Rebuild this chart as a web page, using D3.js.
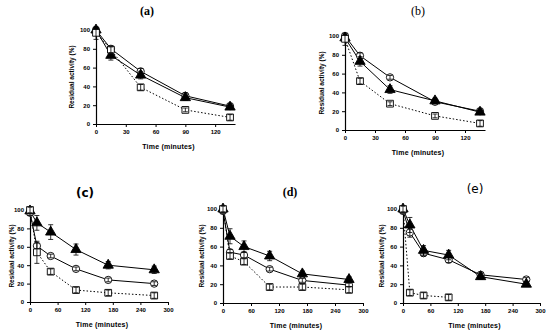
<!DOCTYPE html>
<html>
<head>
    <title>Residual activity</title>
    <script src="https://d3js.org/d3.v7.min.js"></script>
    <style>
        body { margin: 0; background: #fff; }
        svg text { font-family: Arial, "Liberation Sans", sans-serif; }
    </style>
</head>
<body>
<div id="vis"></div>
<script>
    // time points (minutes)
    var timesAB = [0, 15, 45, 90, 135];
    var timesCDE = [0, 15, 45, 100, 170, 270];
    var timesSquareE = [0, 15, 45, 100];

    var xTicksAB = [0, 30, 60, 90, 120];
    var xTicksCDE = [0, 60, 120, 180, 240, 300];
    var yTicks = [0, 20, 40, 60, 80, 100];

    var panelNames = ["(a)", "(b)", "(c)", "(d)", "(e)"];

    // residual activity (%) - open circles, filled triangles, open squares
    var circleA = [100, 80, 56, 30, 19];
    var triangleA = [100, 73, 52, 28, 18];
    var squareA = [97, 79, 39, 15, 7];
    var circleErrA = [2, 3, 3, 3, 2];
    var triangleErrA = [3, 5, 4, 3, 2];
    var squareErrA = [7, 3, 3, 2, 3];

    var circleB = [100, 79, 56, 30, 20];
    var triangleB = [98, 73, 43, 31, 19];
    var squareB = [97, 52, 28, 15, 7];
    var circleErrB = [2, 3, 2, 2, 2];
    var triangleErrB = [3, 5, 4, 3, 2];
    var squareErrB = [7, 3, 2, 2, 3];

    var circleC = [97, 61, 50, 36, 24, 20];
    var triangleC = [99, 86, 76, 57, 40, 35];
    var squareC = [100, 54, 33, 13, 10, 7];
    var circleErrC = [3, 3, 2, 2, 2, 2];
    var triangleErrC = [2, 8, 8, 6, 4, 4];
    var squareErrC = [3, 12, 3, 3, 3, 3];

    var circleD = [98, 54, 51, 36, 24, 19];
    var triangleD = [100, 71, 60, 50, 31, 25];
    var squareD = [100, 50, 44, 17, 17, 14];
    var circleErrD = [3, 3, 3, 2, 2, 2];
    var triangleErrD = [2, 8, 6, 5, 3, 3];
    var squareErrD = [3, 3, 3, 3, 3, 3];

    var circleE = [98, 75, 53, 46, 30, 25];
    var triangleE = [100, 83, 56, 51, 28, 20];
    var squareE = [100, 11, 8, 6];
    var circleErrE = [3, 5, 3, 3, 2, 2];
    var triangleErrE = [2, 8, 5, 5, 3, 2];
    var squareErrE = [3, 3, 3, 3];

    function pts(times, vals, errs) {
        return times.map(function(t, i) { return {t: t, v: vals[i], e: errs[i]}; });
    }

    // layout of each small chart on the page
    var panels = [
        {name: panelNames[0], left: 96, right: 235, top: 30, bottom: 124, xMax: 140, xTicks: xTicksAB,
         titleX: 147, titleY: 15, titleFont: "'Liberation Serif', serif", titleWeight: "bold",
         ylabX: 72, xlabY: 149,
         circle: pts(timesAB, circleA, circleErrA), triangle: pts(timesAB, triangleA, triangleErrA), square: pts(timesAB, squareA, squareErrA)},
        {name: panelNames[1], left: 345, right: 485, top: 36, bottom: 130, xMax: 140, xTicks: xTicksAB,
         titleX: 418, titleY: 15, titleFont: "'Liberation Serif', serif", titleWeight: "normal",
         ylabX: 322, xlabY: 155,
         circle: pts(timesAB, circleB, circleErrB), triangle: pts(timesAB, triangleB, triangleErrB), square: pts(timesAB, squareB, squareErrB)},
        {name: panelNames[2], left: 30, right: 168, top: 210, bottom: 302, xMax: 300, xTicks: xTicksCDE,
         titleX: 85, titleY: 197, titleFont: "'DejaVu Sans', sans-serif", titleWeight: "bold",
         ylabX: 12, xlabY: 327,
         circle: pts(timesCDE, circleC, circleErrC), triangle: pts(timesCDE, triangleC, triangleErrC), square: pts(timesCDE, squareC, squareErrC)},
        {name: panelNames[3], left: 223, right: 363, top: 209, bottom: 303, xMax: 300, xTicks: xTicksCDE,
         titleX: 290, titleY: 196, titleFont: "'Liberation Serif', serif", titleWeight: "bold",
         ylabX: 202, xlabY: 328,
         circle: pts(timesCDE, circleD, circleErrD), triangle: pts(timesCDE, triangleD, triangleErrD), square: pts(timesCDE, squareD, squareErrD)},
        {name: panelNames[4], left: 403, right: 540, top: 209, bottom: 303, xMax: 300, xTicks: xTicksCDE,
         titleX: 475, titleY: 193, titleFont: "'DejaVu Sans', sans-serif", titleWeight: "normal",
         ylabX: 382, xlabY: 328,
         circle: pts(timesCDE, circleE, circleErrE), triangle: pts(timesCDE, triangleE, triangleErrE), square: pts(timesSquareE, squareE, squareErrE)}
    ];

    var svg = d3.select("#vis").append("svg")
        .attr("width", 550)
        .attr("height", 331);

    panels.forEach(function(p) {
        var g = svg.append("g");

        var x = d3.scaleLinear().domain([0, p.xMax]).range([p.left, p.right]);
        var y = d3.scaleLinear().domain([0, 100]).range([p.bottom, p.top]);

        // title
        g.append("text")
            .attr("x", p.titleX)
            .attr("y", p.titleY)
            .attr("text-anchor", "middle")
            .style("font-family", p.titleFont)
            .style("font-weight", p.titleWeight)
            .style("font-size", "12px")
            .text(p.name);

        // axes
        var xAxis = g.append("g")
            .attr("transform", "translate(0," + p.bottom + ")")
            .call(d3.axisBottom(x).tickValues(p.xTicks).tickSize(3).tickSizeOuter(0).tickPadding(3));
        var yAxis = g.append("g")
            .attr("transform", "translate(" + p.left + ",0)")
            .call(d3.axisLeft(y).tickValues(yTicks).tickSize(3).tickSizeOuter(0).tickPadding(3));
        [xAxis, yAxis].forEach(function(a) {
            a.select(".domain").attr("stroke", "#000").attr("stroke-width", 1.2);
            a.selectAll(".tick line").attr("stroke", "#000");
            a.selectAll("text")
                .style("font-size", "6px")
                .style("font-weight", "bold")
                .attr("fill", "#000");
        });

        // axis labels
        g.append("text")
            .attr("transform", "translate(" + p.ylabX + "," + ((p.top + p.bottom) / 2) + ")rotate(-90)")
            .attr("text-anchor", "middle")
            .attr("dominant-baseline", "middle")
            .style("font-size", "6.5px")
            .style("font-weight", "bold")
            .text("Residual activity (%)");
        g.append("text")
            .attr("x", (p.left + p.right) / 2 + 3)
            .attr("y", p.xlabY)
            .attr("text-anchor", "middle")
            .style("font-size", "7px")
            .style("font-weight", "bold")
            .style("letter-spacing", "0.2px")
            .text("Time (minutes)");

        var line = d3.line()
            .x(function(d) { return x(d.t); })
            .y(function(d) { return y(d.v); });

        var series = [
            {data: p.circle, dash: null, shape: "circle"},
            {data: p.triangle, dash: null, shape: "triangle"},
            {data: p.square, dash: "1.5,2", shape: "square"}
        ];

        series.forEach(function(s) {
            g.append("path")
                .datum(s.data)
                .attr("d", line)
                .attr("fill", "none")
                .attr("stroke", "#000")
                .attr("stroke-width", 1)
                .attr("stroke-dasharray", s.dash);
        });

        series.forEach(function(s) {
            // markers
            var sym = s.shape === "circle" ? d3.symbolCircle : (s.shape === "triangle" ? d3.symbolTriangle : d3.symbolSquare);
            var size = s.shape === "circle" ? 42 : (s.shape === "triangle" ? 46 : 46);
            g.selectAll(null)
                .data(s.data)
                .enter()
                .append("path")
                .attr("d", d3.symbol().type(sym).size(size))
                .attr("transform", function(d) { return "translate(" + x(d.t) + "," + y(d.v) + ")"; })
                .attr("fill", s.shape === "triangle" ? "#000" : "#fff")
                .attr("stroke", "#000")
                .attr("stroke-width", 0.9);

            // error bars
            var eb = g.selectAll(null)
                .data(s.data)
                .enter()
                .append("g")
                .attr("stroke", "#000")
                .attr("stroke-width", 0.8);
            eb.append("line")
                .attr("x1", function(d) { return x(d.t); })
                .attr("x2", function(d) { return x(d.t); })
                .attr("y1", function(d) { return y(d.v - d.e); })
                .attr("y2", function(d) { return y(Math.min(d.v + d.e, 103)); });
            eb.append("line")
                .attr("x1", function(d) { return x(d.t) - 2.5; })
                .attr("x2", function(d) { return x(d.t) + 2.5; })
                .attr("y1", function(d) { return y(d.v - d.e); })
                .attr("y2", function(d) { return y(d.v - d.e); });
            eb.append("line")
                .attr("x1", function(d) { return x(d.t) - 2.5; })
                .attr("x2", function(d) { return x(d.t) + 2.5; })
                .attr("y1", function(d) { return y(Math.min(d.v + d.e, 103)); })
                .attr("y2", function(d) { return y(Math.min(d.v + d.e, 103)); });
        });
    });
</script>
</body>
</html>
